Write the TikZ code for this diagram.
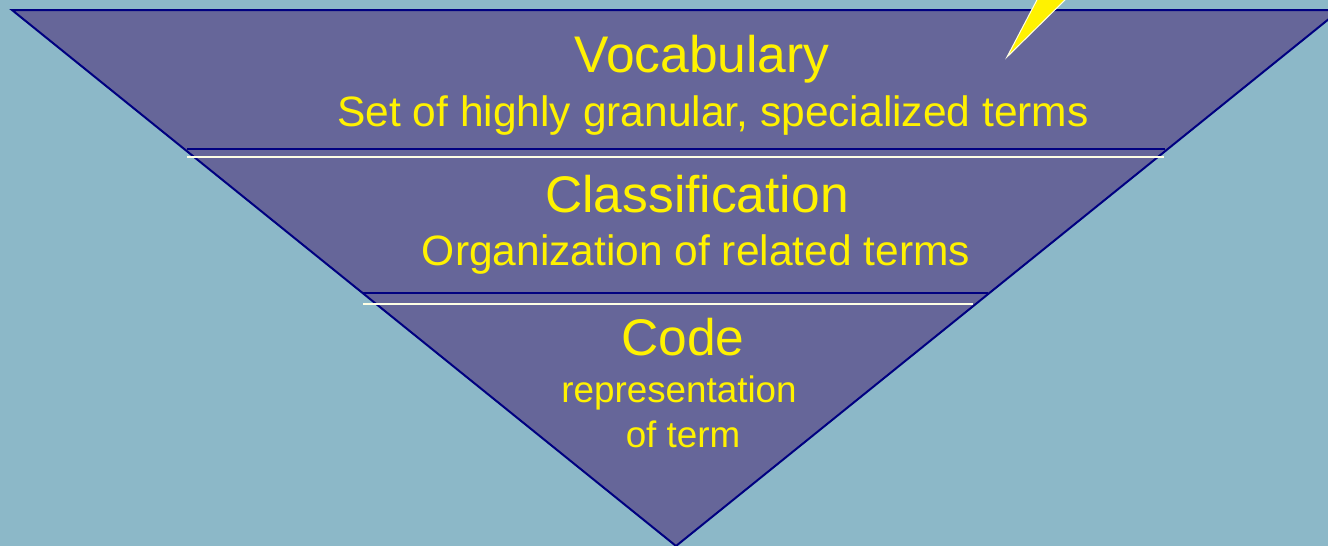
\documentclass[tikz,border=0pt]{standalone}
\usepackage{fontspec}
\setmainfont{Liberation Sans}
\definecolor{bgblue}{RGB}{140,184,200}
\definecolor{funnel}{RGB}{102,102,153}
\definecolor{edgenavy}{RGB}{0,0,128}
\definecolor{cream}{RGB}{255,255,228}
\begin{document}
\begin{tikzpicture}[x=1pt,y=-1pt,
    title/.style={text=yellow,anchor=base,inner sep=0pt,font=\fontsize{51.5}{54}\selectfont},
    sub/.style={text=yellow,anchor=base,inner sep=0pt,font=\fontsize{42.5}{46}\selectfont},
    small/.style={text=yellow,anchor=base,inner sep=0pt,font=\fontsize{36.8}{40}\selectfont},
    darkline/.style={draw=edgenavy,line width=2pt},
    lightline/.style={draw=cream,line width=2pt}]
  \useasboundingbox (0,0) rectangle (1328,546);
  \fill[bgblue] (0,0) rectangle (1328,546);
  \begin{scope}
    \clip (0,0) rectangle (1328,546);
    \coordinate (tl) at (12,10);
    \coordinate (tr) at (1340,10);
    \coordinate (bot) at (676,546);
    \filldraw[fill=funnel,draw=edgenavy,line width=2pt,line join=miter]
      (tl) -- (tr) -- (bot) -- cycle;
    % dividers
    \coordinate (d1a) at (187,149);
    \coordinate (d1b) at (1165,149);
    \coordinate (w1a) at (187,157);
    \coordinate (w1b) at (1164,157);
    \coordinate (d2a) at (363,293);
    \coordinate (d2b) at (988,293);
    \coordinate (w2a) at (363,304);
    \coordinate (w2b) at (973,304);
    \draw[darkline] (d1a) -- (d1b);
    \draw[lightline] (w1a) -- (w1b);
    \draw[darkline] (d2a) -- (d2b);
    \draw[lightline] (w2a) -- (w2b);
    % bolt
    \coordinate (tip) at (1007,57);
    \filldraw[fill=yellow,draw=cream,line width=1pt]
      (tip) -- (1039,-4) -- (1069,-4) -- cycle;
  \end{scope}
  \node[title] (vocab) at (702,72.5) {Vocabulary};
  \node[sub] (vocabtxt) at (713,126) {Set of highly granular, specialized terms};
  \node[title] (class) at (697,212.5) {Classification};
  \node[sub] (classtxt) at (696,265.5) {Organization of related terms};
  \node[title] (code) at (683,355.5) {Code};
  \node[small] (codetxt) at (679,402) {representation};
  \node[small] (codetxt2) at (683,447) {of term};
\end{tikzpicture}
\end{document}
